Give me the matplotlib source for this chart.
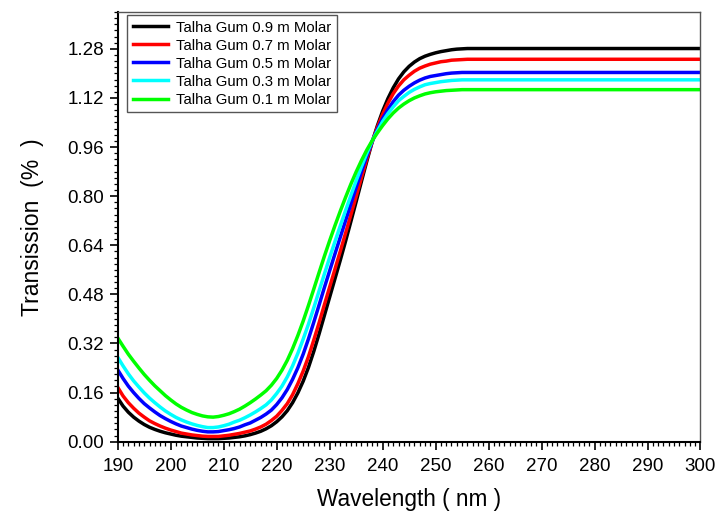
import matplotlib
matplotlib.use("Agg")
import matplotlib.pyplot as plt
from matplotlib.ticker import MultipleLocator, FormatStrFormatter

plt.rcParams['font.family'] = ['Liberation Sans', 'DejaVu Sans']

wavelength = list(range(190, 261)) + [270, 280, 290, 300]

molar_09 = [0.142, 0.116, 0.096, 0.080, 0.067, 0.056, 0.047, 0.040, 0.034, 0.029,
            0.025, 0.021, 0.018, 0.016, 0.014, 0.012, 0.011, 0.010, 0.010, 0.010,
            0.011, 0.012, 0.014, 0.016, 0.019, 0.023, 0.028, 0.034, 0.042, 0.052,
            0.065, 0.081, 0.101, 0.127, 0.159, 0.197, 0.242, 0.294, 0.351, 0.411,
            0.471, 0.531, 0.591, 0.653, 0.717, 0.782, 0.848, 0.913, 0.975, 1.029,
            1.077, 1.118, 1.153, 1.182, 1.205, 1.223, 1.237, 1.248, 1.256, 1.262,
            1.267, 1.271, 1.274, 1.277, 1.279, 1.280, 1.281, 1.281, 1.281, 1.281,
            1.281, 1.281, 1.281, 1.281, 1.281]
molar_07 = [0.177, 0.149, 0.127, 0.109, 0.093, 0.080, 0.068, 0.059, 0.051, 0.044,
            0.038, 0.033, 0.028, 0.025, 0.022, 0.020, 0.018, 0.017, 0.017, 0.017,
            0.019, 0.021, 0.024, 0.027, 0.031, 0.035, 0.041, 0.048, 0.057, 0.069,
            0.083, 0.102, 0.124, 0.153, 0.189, 0.230, 0.277, 0.331, 0.387, 0.446,
            0.504, 0.562, 0.620, 0.679, 0.739, 0.799, 0.860, 0.920, 0.976, 1.024,
            1.067, 1.103, 1.134, 1.159, 1.179, 1.194, 1.207, 1.217, 1.224, 1.230,
            1.234, 1.238, 1.240, 1.243, 1.244, 1.245, 1.246, 1.246, 1.246, 1.246,
            1.246, 1.246, 1.246, 1.246, 1.246]
molar_05 = [0.234, 0.206, 0.181, 0.160, 0.141, 0.124, 0.110, 0.097, 0.085, 0.075,
            0.066, 0.058, 0.051, 0.046, 0.041, 0.037, 0.034, 0.032, 0.032, 0.033,
            0.036, 0.039, 0.043, 0.048, 0.055, 0.061, 0.070, 0.079, 0.090, 0.103,
            0.121, 0.143, 0.170, 0.203, 0.241, 0.285, 0.335, 0.389, 0.445, 0.502,
            0.557, 0.612, 0.666, 0.720, 0.774, 0.828, 0.880, 0.930, 0.977, 1.017,
            1.053, 1.082, 1.108, 1.129, 1.145, 1.158, 1.169, 1.178, 1.185, 1.190,
            1.193, 1.196, 1.199, 1.201, 1.202, 1.203, 1.203, 1.203, 1.203, 1.203,
            1.203, 1.203, 1.203, 1.203, 1.203]
molar_03 = [0.275, 0.247, 0.221, 0.198, 0.178, 0.159, 0.142, 0.127, 0.113, 0.100,
            0.089, 0.079, 0.071, 0.064, 0.058, 0.053, 0.049, 0.046, 0.046, 0.048,
            0.052, 0.057, 0.064, 0.070, 0.078, 0.087, 0.097, 0.108, 0.120, 0.136,
            0.157, 0.181, 0.211, 0.247, 0.288, 0.334, 0.383, 0.436, 0.491, 0.546,
            0.600, 0.652, 0.703, 0.753, 0.802, 0.850, 0.896, 0.939, 0.979, 1.012,
            1.043, 1.069, 1.091, 1.111, 1.125, 1.138, 1.148, 1.156, 1.163, 1.167,
            1.170, 1.173, 1.175, 1.177, 1.178, 1.179, 1.179, 1.179, 1.179, 1.179,
            1.179, 1.179, 1.179, 1.179, 1.179]
molar_01 = [0.338, 0.311, 0.285, 0.262, 0.240, 0.219, 0.200, 0.182, 0.166, 0.150,
            0.136, 0.123, 0.112, 0.103, 0.095, 0.089, 0.084, 0.081, 0.080, 0.082,
            0.086, 0.091, 0.098, 0.106, 0.116, 0.127, 0.139, 0.152, 0.166, 0.184,
            0.206, 0.233, 0.265, 0.303, 0.346, 0.393, 0.444, 0.497, 0.551, 0.604,
            0.655, 0.704, 0.751, 0.796, 0.839, 0.879, 0.916, 0.950, 0.980, 1.006,
            1.030, 1.052, 1.071, 1.087, 1.100, 1.111, 1.120, 1.127, 1.133, 1.137,
            1.140, 1.142, 1.144, 1.145, 1.146, 1.147, 1.147, 1.147, 1.147, 1.147,
            1.147, 1.147, 1.147, 1.147, 1.147]

series = [molar_09, molar_07, molar_05, molar_03, molar_01]
labels = ["Talha Gum 0.9 m Molar", "Talha Gum 0.7 m Molar", "Talha Gum 0.5 m Molar",
          "Talha Gum 0.3 m Molar", "Talha Gum 0.1 m Molar"]
colors = ["#000000", "#ff0000", "#0000ff", "#00ffff", "#00ff00"]

fig = plt.figure(figsize=(7.18, 5.13), dpi=100)
ax = fig.add_axes([0.164, 0.139, 0.8116, 0.8376])

for y, lab, c in zip(series, labels, colors):
    ax.plot(wavelength, y, color=c, lw=2.5, label=lab, solid_joinstyle='round')

ax.set_xlim(190, 300)
ax.set_ylim(0, 1.40)
ax.xaxis.set_major_locator(MultipleLocator(10))
ax.xaxis.set_minor_locator(MultipleLocator(1))
ax.yaxis.set_major_locator(MultipleLocator(0.16))
ax.yaxis.set_minor_locator(MultipleLocator(0.02))
ax.yaxis.set_major_formatter(FormatStrFormatter('%.2f'))

ax.tick_params(which='both', direction='out', top=False, right=False)
ax.tick_params(which='major', length=6, width=1.2, labelsize=13.5, colors='black')
ax.tick_params(axis='x', which='major', pad=6)
ax.tick_params(axis='y', which='major', pad=4)
ax.tick_params(which='minor', length=3, width=0.9)

for s in ['left', 'bottom']:
    ax.spines[s].set_linewidth(1.5)
    ax.spines[s].set_color('black')
for s in ['top', 'right']:
    ax.spines[s].set_linewidth(1.0)
    ax.spines[s].set_color('#555555')

ax.set_xlabel("Wavelength ( nm )", fontsize=16.3, labelpad=9)
ax.set_ylabel("Transission  (%  )", fontsize=16.6, labelpad=17)

leg = ax.legend(loc='upper left', bbox_to_anchor=(0.016, 0.993), borderaxespad=0,
                fontsize=10.7, handlelength=2.4, handletextpad=0.5, labelspacing=0.27,
                borderpad=0.38, fancybox=False, framealpha=1, edgecolor='#555555')
leg.get_frame().set_linewidth(1.0)

fig.savefig("out.png", dpi=100)
